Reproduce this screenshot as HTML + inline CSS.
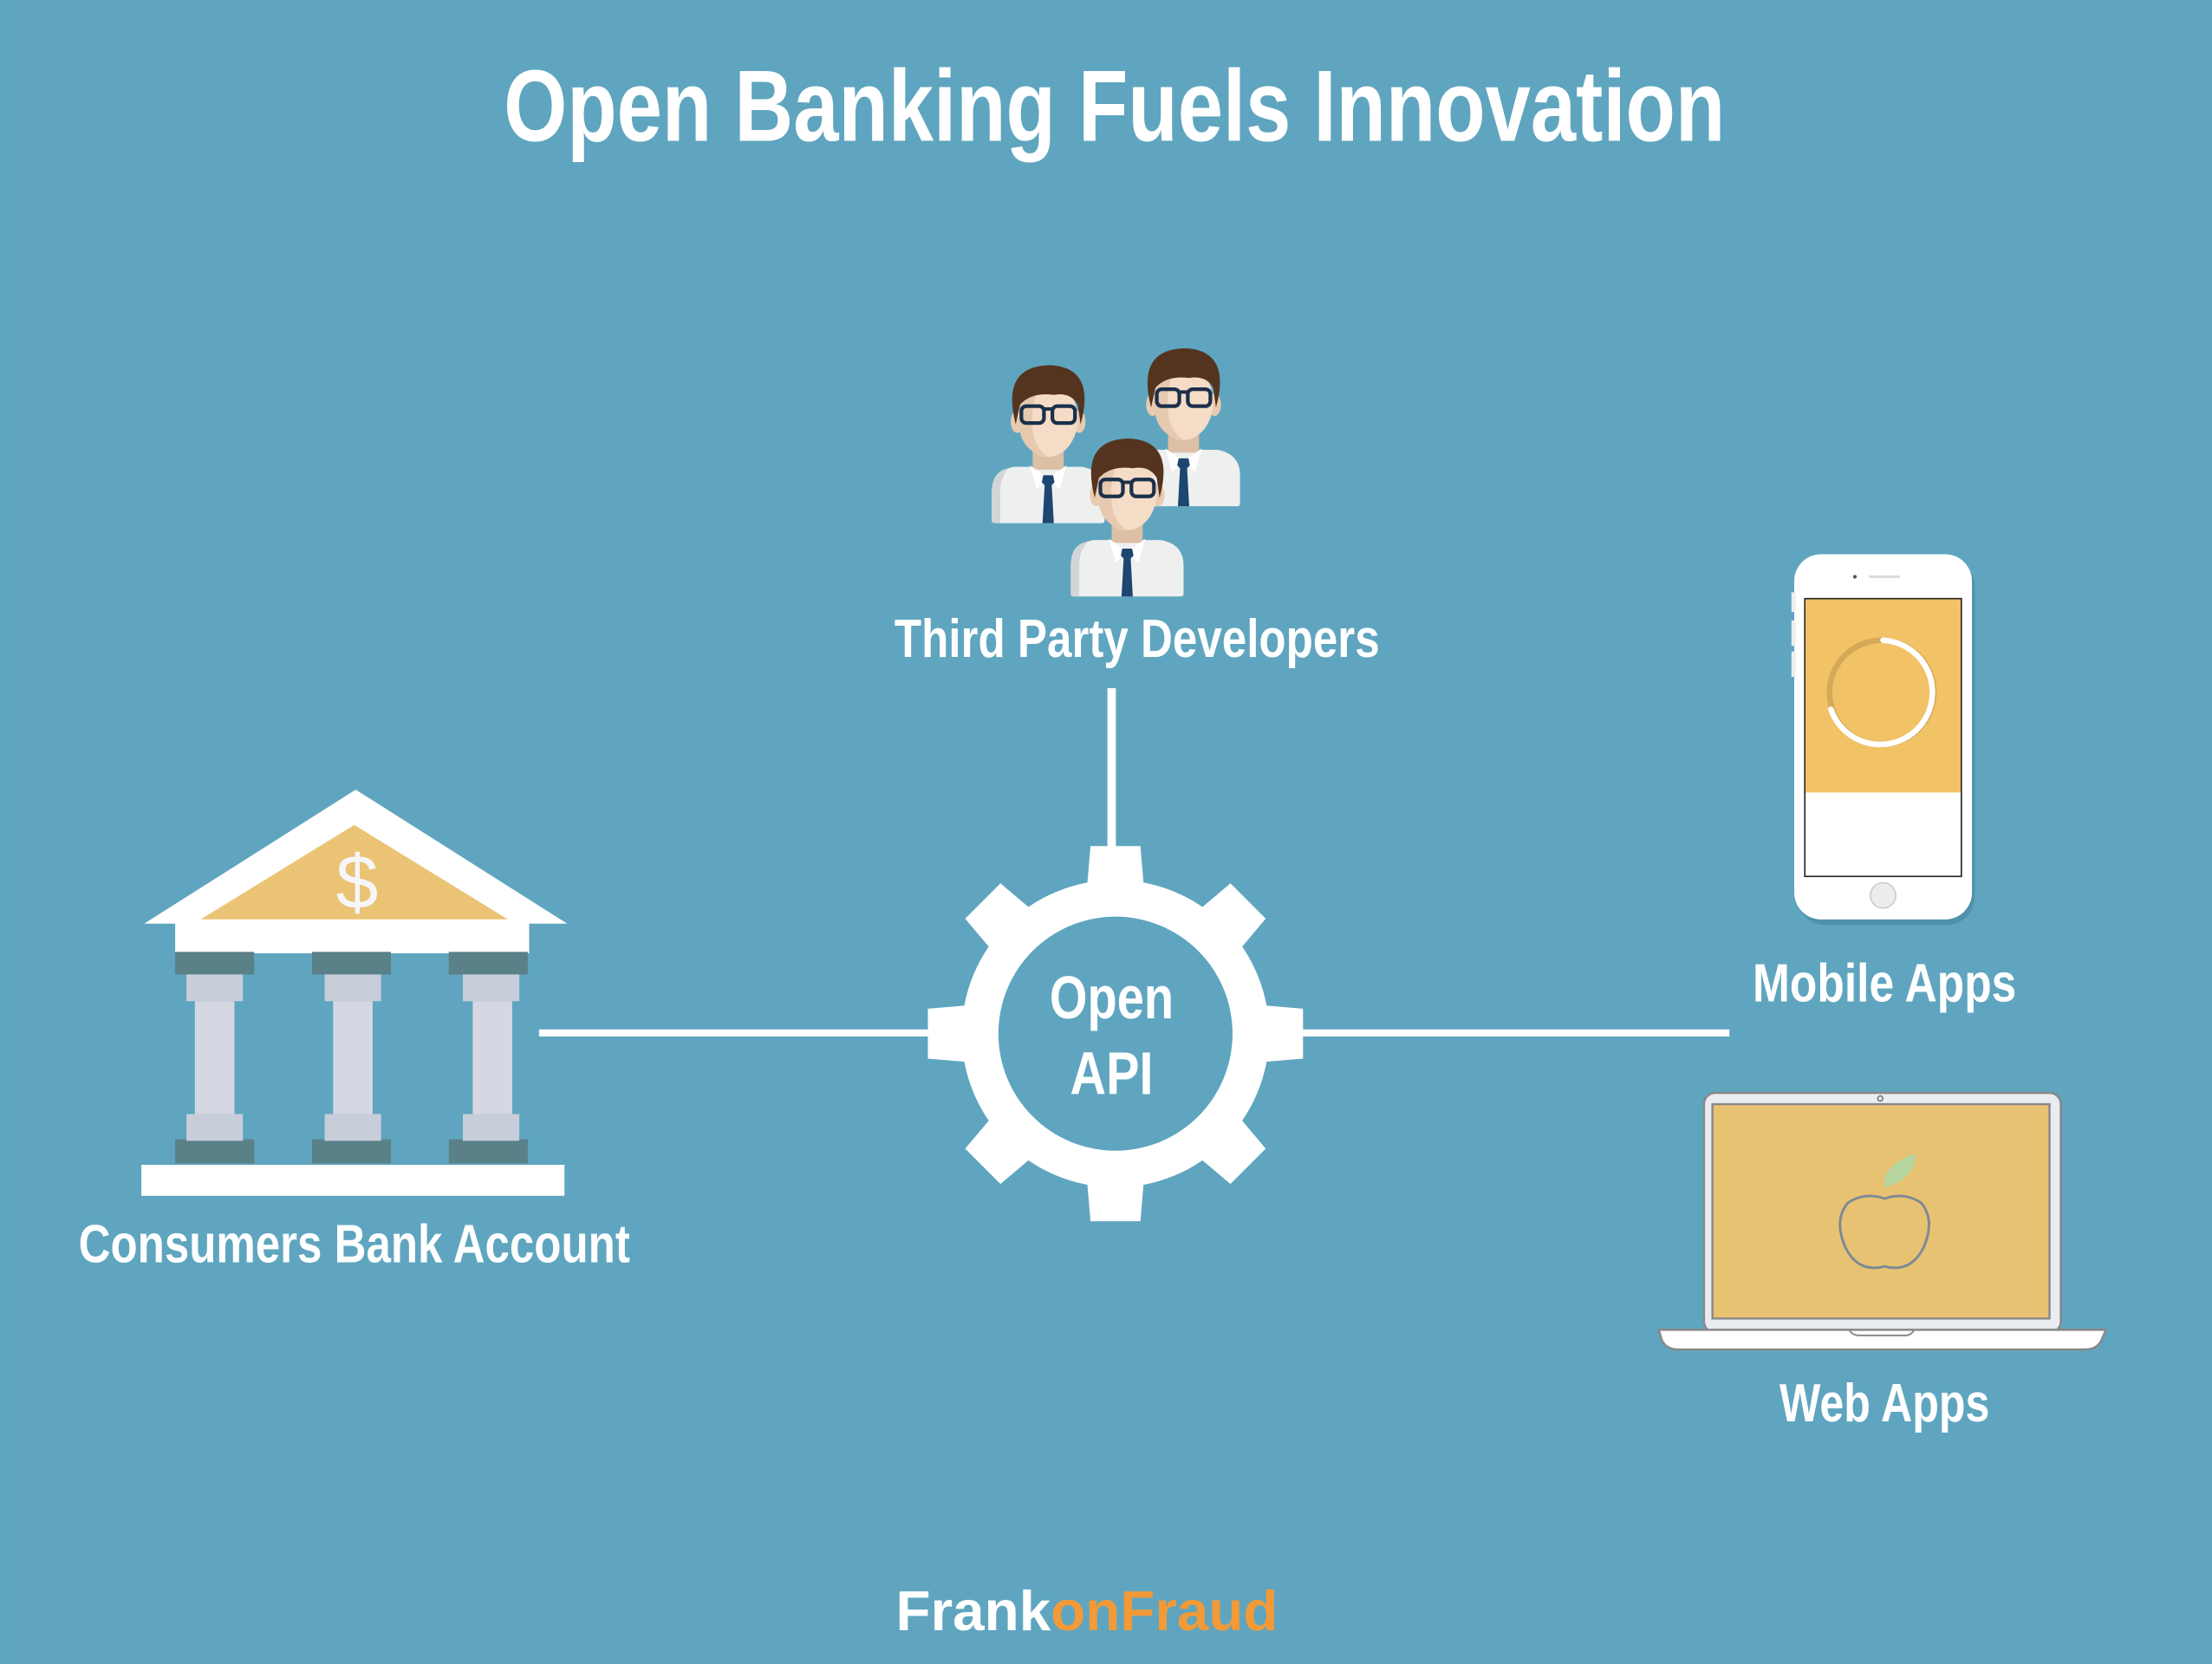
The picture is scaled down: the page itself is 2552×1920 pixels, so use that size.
<!DOCTYPE html>
<html><head><meta charset="utf-8"><style>
html,body{margin:0;padding:0;background:#5fa5bf;}
svg{display:block;}
text{font-family:"Liberation Sans Narrow","Liberation Sans",sans-serif;font-weight:bold;fill:#fff;}
</style></head><body>
<svg width="2552" height="1920" viewBox="0 0 1568 1180" xmlns="http://www.w3.org/2000/svg">
<defs>
<g id="p">
  <path d="M-40,72 L-40,52 Q-40,37 -24,34 L24,34 Q40,37 40,52 L40,72 Q40,74 38,74 L-38,74 Q-40,74 -40,72Z" fill="#eef0f0"/>
  <path d="M-40,72 L-40,52 Q-40,37 -28,35 Q-34,42 -34,52 L-34,74 L-38,74 Q-40,74 -40,72Z" fill="#d3d6d8"/>
  <rect x="-11" y="12" width="22" height="24" fill="#dcbfa5"/>
  <ellipse cx="-22" cy="2" rx="4.5" ry="8" fill="#e8cbb0"/>
  <ellipse cx="22" cy="2" rx="4.5" ry="8" fill="#e8cbb0"/>
  <ellipse cx="0" cy="0" rx="21" ry="27" fill="#f4dcc6"/>
  <path d="M-21,0 Q-21,-20 -6,-24 Q-14,-6 -10,14 Q-6,24 0,27 Q-21,24 -21,0Z" fill="#e6c9ae"/>
  <path d="M-23,4 Q-34,-38 2,-38 Q34,-36 23,4 L21,-10 Q16,-19 4,-17 Q-12,-19 -20,-10 Z" fill="#55341f"/>
  <rect x="-19" y="-9" width="16" height="12" rx="3.5" fill="none" stroke="#1b2f4a" stroke-width="2.6"/>
  <rect x="3" y="-9" width="16" height="12" rx="3.5" fill="none" stroke="#1b2f4a" stroke-width="2.6"/>
  <line x1="-3" y1="-7" x2="3" y2="-7" stroke="#1b2f4a" stroke-width="2.4"/>
  <path d="M-13,33 L0,42 L-8,50 Z M13,33 L0,42 L8,50 Z" fill="#ffffff"/>
  <path d="M-3.5,40 L3.5,40 L4.5,45 L2.5,47 L4,74 L-4,74 L-2.5,47 L-4.5,45Z" fill="#1d4670"/>
</g>
</defs>
<rect width="1568" height="1180" fill="#5fa5bf"/>
<text x="790" y="100" font-size="72" text-anchor="middle" textLength="866" lengthAdjust="spacingAndGlyphs">Open Banking Fuels Innovation</text>

<!-- people -->
<use href="#p" x="743" y="297"/>
<use href="#p" x="839" y="285"/>
<use href="#p" x="799" y="349"/>
<text x="806" y="466" font-size="38" text-anchor="middle" textLength="344" lengthAdjust="spacingAndGlyphs">Third Party Developers</text>

<!-- connectors -->
<rect x="382" y="730" width="280" height="5" fill="#fff"/>
<rect x="920" y="730" width="306" height="5" fill="#fff"/>
<rect x="785" y="488" width="6" height="115" fill="#fff"/>

<!-- gear -->
<g transform="translate(790.7,733)" fill="#fff">
  <circle r="109"/>
  <g id="t"><path d="M-20.5,-100 L-17.7,-133 L17.7,-133 L20.5,-100Z"/></g>
  <use href="#t" transform="rotate(45)"/><use href="#t" transform="rotate(90)"/><use href="#t" transform="rotate(135)"/>
  <use href="#t" transform="rotate(180)"/><use href="#t" transform="rotate(225)"/><use href="#t" transform="rotate(270)"/><use href="#t" transform="rotate(315)"/>
  <circle r="83" fill="#5fa5bf"/>
</g>
<text x="788" y="722" font-size="43" text-anchor="middle" textLength="88" lengthAdjust="spacingAndGlyphs">Open</text>
<text x="788" y="776" font-size="43" text-anchor="middle" textLength="59" lengthAdjust="spacingAndGlyphs">API</text>

<!-- bank -->
<polygon points="252,560 402,655 102,655" fill="#fff"/>
<polygon points="251,585 360,652 142,652" fill="#eac375"/>
<text x="253" y="644" font-size="54" text-anchor="middle" style="font-family:'Liberation Sans',sans-serif;font-weight:normal;fill:#f6f6fa">$</text>
<rect x="124" y="652" width="251" height="24" fill="#fff"/>
<g fill="#5a8088">
<rect x="124" y="675" width="56" height="16"/><rect x="221" y="675" width="56" height="16"/><rect x="318" y="675" width="56" height="16"/>
<rect x="124" y="808" width="56" height="17"/><rect x="221" y="808" width="56" height="17"/><rect x="318" y="808" width="56" height="17"/>
</g>
<g fill="#c7cdd9">
<rect x="132" y="691" width="40" height="19"/><rect x="230" y="691" width="40" height="19"/><rect x="328" y="691" width="40" height="19"/>
<rect x="132" y="790" width="40" height="19"/><rect x="230" y="790" width="40" height="19"/><rect x="328" y="790" width="40" height="19"/>
</g>
<g fill="#d5d8e3">
<rect x="138" y="710" width="28" height="80"/><rect x="236" y="710" width="28" height="80"/><rect x="335" y="710" width="28" height="80"/>
</g>
<rect x="100" y="826" width="300" height="22" fill="#fff"/>
<text x="251" y="895" font-size="38" text-anchor="middle" textLength="391" lengthAdjust="spacingAndGlyphs">Consumers Bank Account</text>

<!-- phone -->
<rect x="1274" y="396" width="126" height="260" rx="20" fill="#3f7f96" opacity="0.5"/>
<rect x="1272" y="393" width="126" height="259" rx="19" fill="#fff"/>
<rect x="1270" y="420" width="3" height="14" fill="#eee"/><rect x="1270" y="440" width="3" height="18" fill="#eee"/><rect x="1270" y="462" width="3" height="18" fill="#eee"/>
<rect x="1279.5" y="424.5" width="111" height="197" fill="#fff" stroke="#222" stroke-width="1"/>
<rect x="1280" y="425" width="110" height="137" fill="#f2c266"/>
<circle cx="1334" cy="491" r="37" fill="none" stroke="#d4a957" stroke-width="4"/>
<path d="M1335,454 A37,37 0 1 1 1298,503" fill="none" stroke="#fff" stroke-width="4" stroke-linecap="round"/>
<circle cx="1335" cy="635" r="9" fill="#ececec" stroke="#ccc" stroke-width="1"/>
<circle cx="1315" cy="409" r="1.3" fill="#555"/>
<rect x="1325" y="408" width="22" height="2" rx="1" fill="#ddd"/>
<text x="1336" y="710" font-size="38" text-anchor="middle" textLength="187" lengthAdjust="spacingAndGlyphs">Mobile Apps</text>

<!-- laptop -->
<rect x="1208" y="775" width="253" height="170" rx="8" fill="#e9edf0" stroke="#888" stroke-width="1.5"/>
<rect x="1214" y="783" width="239" height="152" fill="#e8c273" stroke="#888" stroke-width="1.5"/>
<circle cx="1333" cy="779" r="1.8" fill="none" stroke="#777" stroke-width="1"/>
<path d="M1176,943 L1493,943 L1490,950 Q1487,957 1478,957 L1190,957 Q1181,957 1178,950Z" fill="#fff" stroke="#888" stroke-width="1.5"/>
<path d="M1311,943 Q1313,947 1318,947 L1351,947 Q1355,947 1357,943" fill="none" stroke="#888" stroke-width="1.2"/>
<path d="M1336,842 Q1334,826 1358,818 Q1358,836 1336,842Z" fill="#b7d59e"/>
<path d="M1336,850 Q1350,845 1362,853 Q1372,865 1364,884 Q1355,903 1336,898 Q1317,903 1308,884 Q1300,865 1310,853 Q1322,845 1336,850Z" fill="none" stroke="#7d8a95" stroke-width="1.8"/>
<text x="1336" y="1008" font-size="38" text-anchor="middle" textLength="149" lengthAdjust="spacingAndGlyphs">Web Apps</text>

<!-- logo -->
<text x="635" y="1156" font-size="40" textLength="271" lengthAdjust="spacingAndGlyphs" style="font-family:'Liberation Sans',sans-serif;font-weight:bold">Frank<tspan style="fill:#f29a38">onFraud</tspan></text>
</svg>
</body></html>
